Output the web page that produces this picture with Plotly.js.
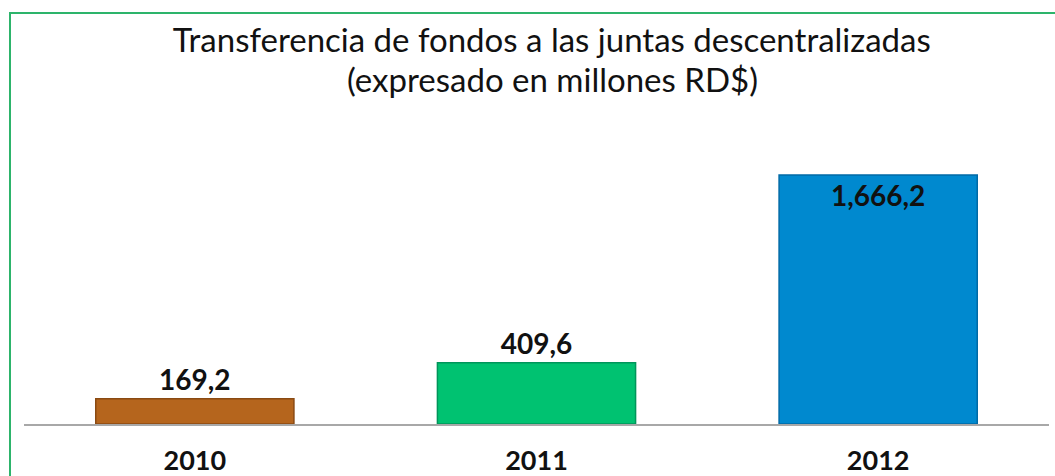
<!DOCTYPE html>
<html>
<head>
<meta charset="utf-8">
<script src="https://cdn.plot.ly/plotly-3.0.1.min.js"></script>
<style>
  html, body { margin: 0; padding: 0; background: #ffffff; }
  #wrap { position: relative; width: 1055px; height: 476px; overflow: hidden; }
  #chart { position: absolute; left: 0; top: 0; width: 1055px; height: 476px; }
  #frame { position: absolute; left: 9px; top: 12px; width: 1100px; height: 500px;
           border-left: 2px solid #2DB46B; border-top: 2px solid #2DB46B; pointer-events: none; }
</style>
</head>
<body>
<div id="wrap">
  <div id="chart"></div>
  <div id="frame"></div>
</div>
<script>
const years = ['2010', '2011', '2012'];
const values = [169.2, 409.6, 1666.2];
const valueLabels = ['169,2', '409,6', '1,666,2'];
const barColors = ['#B5651D', '#00C271', '#0089CF'];
const edgeColors = ['#8A4A12', '#00955A', '#006AA6'];
const labelPositions = ['outside', 'outside', 'inside'];
const titleLine1 = 'Transferencia de fondos a las juntas descentralizadas';
const titleLine2 = '(expresado en millones RD$)';

const FONT = 'Lato, "Open Sans", "DejaVu Sans", sans-serif';
const LABEL_FONT = { family: FONT, size: 28, color: '#111111', weight: 'bold' };
const TICK_FONT = { family: FONT, size: 27, color: '#111111', weight: 'bold' };

const trace = {
  type: 'bar',
  x: years,
  y: values,
  text: valueLabels,
  textposition: labelPositions,
  insidetextanchor: 'end',
  textangle: 0,
  cliponaxis: false,
  textfont: LABEL_FONT,
  insidetextfont: LABEL_FONT,
  outsidetextfont: LABEL_FONT,
  marker: { color: barColors, line: { color: edgeColors, width: 1.5 } },
  hoverinfo: 'x+y'
};

const layout = {
  width: 1055,
  height: 476,
  margin: { l: 24, r: 6, t: 150, b: 52 },
  paper_bgcolor: '#ffffff',
  plot_bgcolor: '#ffffff',
  showlegend: false,
  bargap: 0.42,
  title: {
    text: titleLine1,
    font: { family: FONT, size: 33, color: '#111111' },
    x: 0.523, xanchor: 'center',
    y: 1 - 40 / 476, yanchor: 'middle', yref: 'container'
  },
  annotations: [{
    text: titleLine2,
    xref: 'paper', yref: 'paper',
    x: 0.516, y: 1.0 + (150 - 79) / 274, xanchor: 'center', yanchor: 'middle',
    showarrow: false,
    font: { family: FONT, size: 33, color: '#111111' }
  }],
  xaxis: {
    type: 'category',
    showline: true, linecolor: '#A8A8A8', linewidth: 2,
    ticks: '', showgrid: false, zeroline: false,
    tickfont: TICK_FONT,
    ticklabelstandoff: 12
  },
  yaxis: {
    range: [0, 1833.5],
    visible: false, showgrid: false, zeroline: false
  }
};

Plotly.newPlot('chart', [trace], layout, { displayModeBar: false, staticPlot: true });
</script>
</body>
</html>
